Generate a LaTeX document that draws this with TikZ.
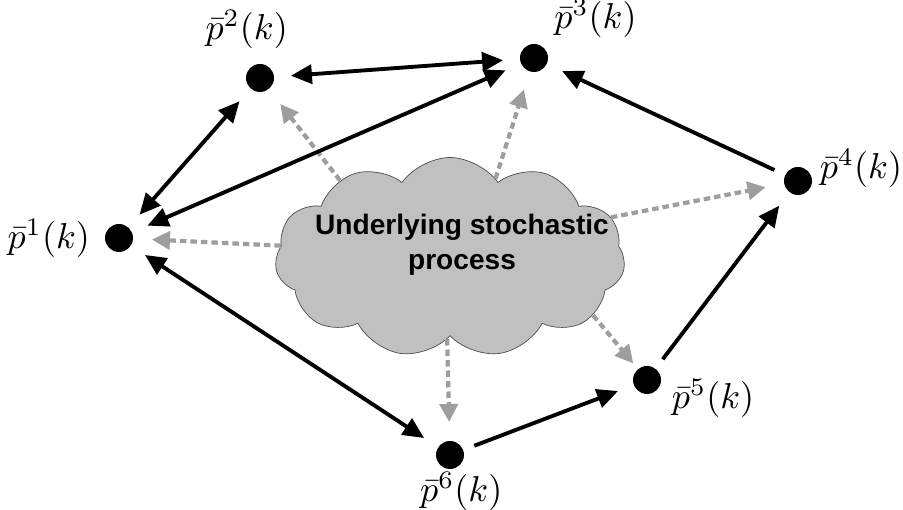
\documentclass[tikz,border=0pt]{standalone}
\usepackage{amsmath}
\usepackage{fontspec}
\newfontfamily\cloudfont{Liberation Sans}
\usepackage{tikz}
\usetikzlibrary{arrows.meta,shapes.symbols}
\definecolor{cloudgray}{RGB}{192,192,192}
\definecolor{flowgray}{RGB}{158,158,158}

\begin{document}
\begin{tikzpicture}[
dot/.style={circle,fill=black,minimum size=0.56cm,inner sep=0pt,outer sep=0pt},
lbl/.style={scale=2.05,inner sep=0pt},
link/.style={line width=2.2pt,-{Triangle[length=0.42cm,width=0.38cm]},shorten <=0.24cm,shorten >=0.34cm},
duplex/.style={line width=2.2pt,{Triangle[length=0.42cm,width=0.38cm]}-{Triangle[length=0.42cm,width=0.38cm]},shorten <=0.34cm,shorten >=0.34cm},
flow/.style={flowgray,line width=2.4pt,dash pattern=on 0.13cm off 0.08cm,-{Triangle[length=0.36cm,width=0.36cm]},shorten >=0.38cm}
]
\useasboundingbox (0,0) rectangle (18.06,10.2);

% the six estimates (label shifts are scaled with the label)
\node[dot,label={[lbl,label distance=0.14cm]left:$\bar{p}^1(k)$}] (p1) at (2.38,5.44) {};
\node[dot,label={[lbl,label distance=0.14cm,xshift=-0.13cm]above:$\bar{p}^2(k)$}] (p2) at (5.20,8.64) {};
\node[dot,label={[lbl,label distance=0.06cm,xshift=0.6cm]above:$\bar{p}^3(k)$}] (p3) at (10.68,9.04) {};
\node[dot,label={[lbl,label distance=0.07cm,yshift=0.12cm]right:$\bar{p}^4(k)$}] (p4) at (15.96,6.58) {};
\node[dot,label={[lbl,label distance=0.1cm,yshift=-0.18cm]right:$\bar{p}^5(k)$}] (p5) at (12.94,2.60) {};
\node[dot,label={[lbl,label distance=0.02cm,xshift=0.11cm]below:$\bar{p}^6(k)$}] (p6) at (9.00,1.10) {};

% the process
\node[cloud,cloud puffs=11,cloud puff arc=110,aspect=1.75,draw=black!70,fill=cloudgray,
      thin,minimum width=7cm,minimum height=4cm,inner sep=0pt] (cloud) at (9.00,5.05) {};
\node[font=\cloudfont\fontsize{16}{20}\selectfont\bfseries,align=center] (cloudtxt) at (9.24,5.30)
      {Underlying stochastic\\process};

\draw[flow] (cloud.176)--(p1);
\draw[flow] (cloud.145)--(p2);
\draw[flow] (cloud.60)--(p3);
\draw[flow] (cloud.14)--(p4);
\draw[flow,shorten >=0.15cm] (cloud.-22)--(p5);
\draw[flow] (cloud.268)--(p6);

\draw[duplex] (p1)--(p2);
\draw[duplex] (p2)--(p3);
\draw[duplex] (p1)--(p3);
\draw[duplex] (p1)--(p6);
\draw[link] (p6)--(p5);
\draw[link] (p5)--(p4);
\draw[link] (p4)--(p3);
\end{tikzpicture}
\end{document}
